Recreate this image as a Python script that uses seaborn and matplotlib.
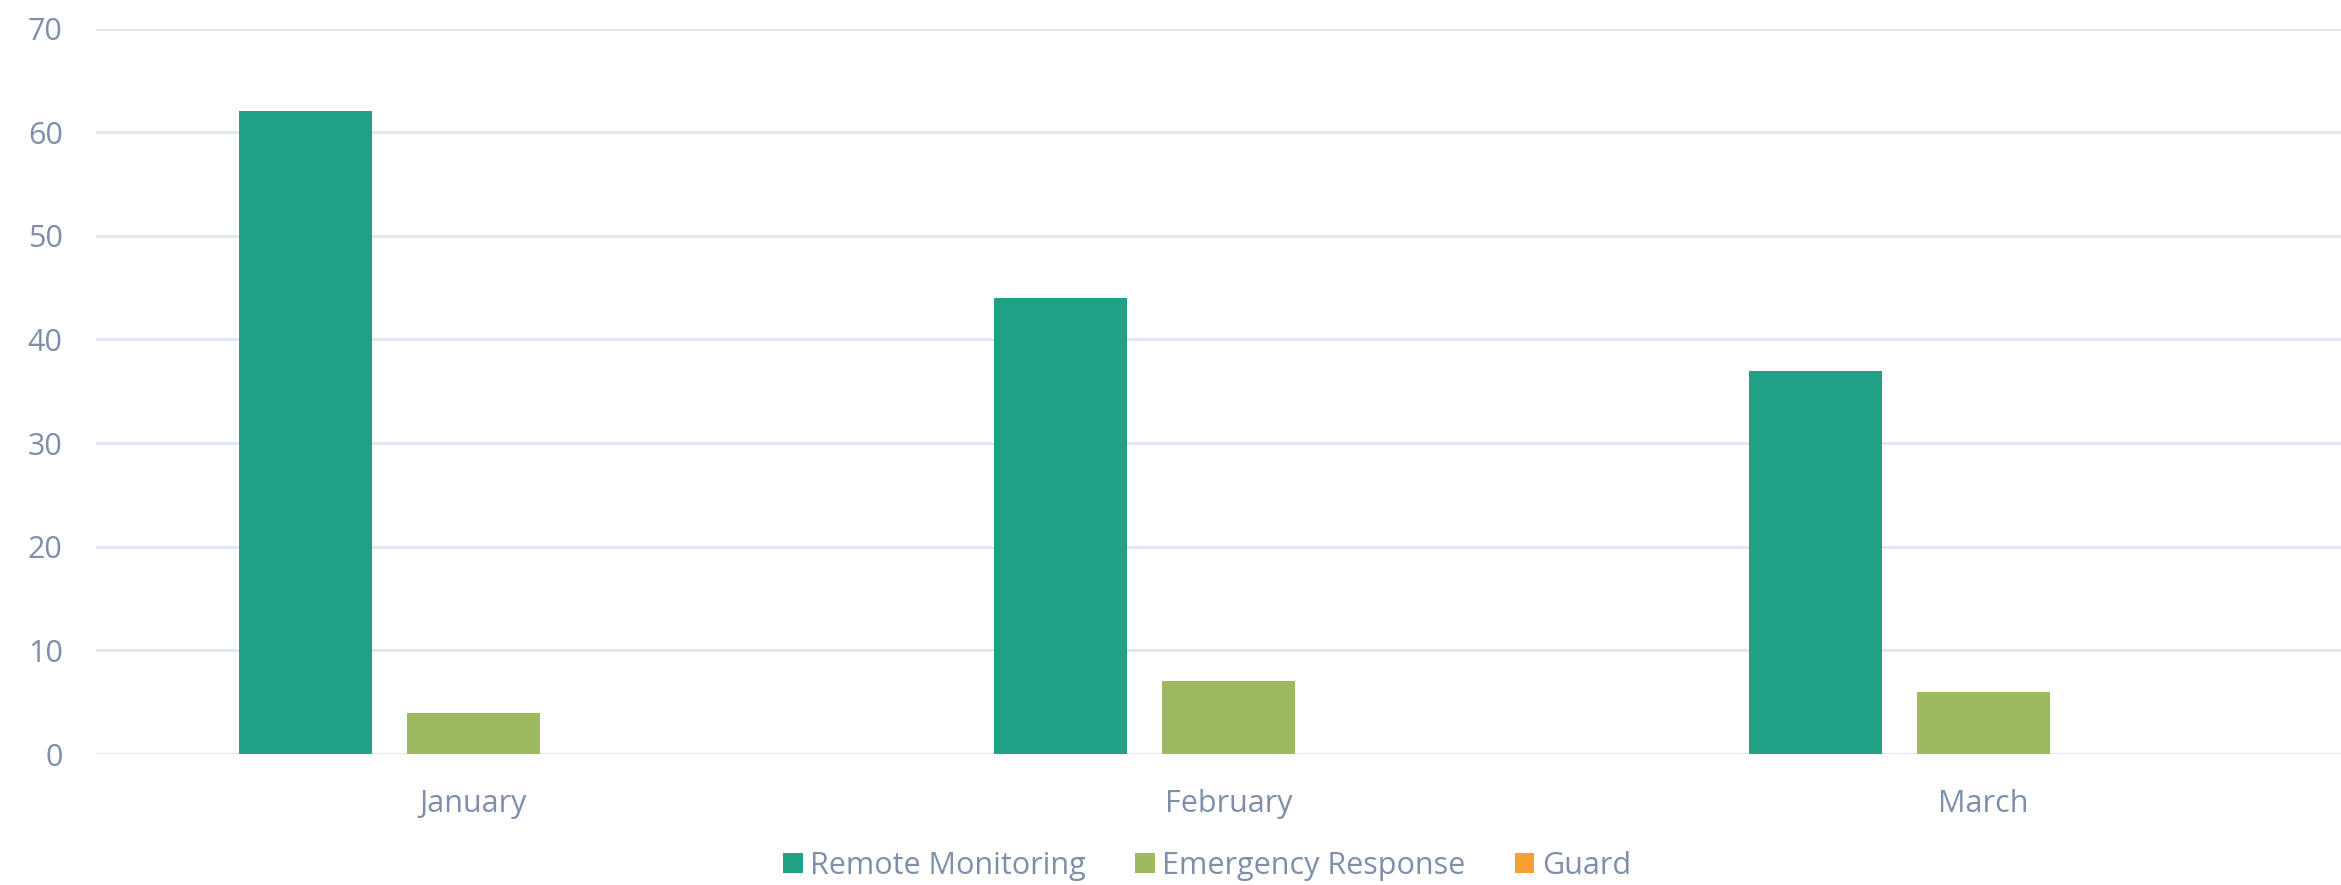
import matplotlib
matplotlib.use("Agg")
import matplotlib.pyplot as plt
import seaborn as sns
import pandas as pd

months = ["January", "February", "March"]
series = ["Remote Monitoring", "Emergency Response", "Guard"]
remote = [62, 44, 37]
emergency = [4, 7, 6]
guard = [0, 0, 0]
colors = ["#20a185", "#9dbb5e", "#f5a02c"]
y_ticks = [0, 10, 20, 30, 40, 50, 60, 70]

df = pd.DataFrame({
    "month": months * 3,
    "series": [series[0]] * 3 + [series[1]] * 3 + [series[2]] * 3,
    "value": remote + emergency + guard,
})

sns.set_theme(style="white")
plt.rcParams["font.family"] = ["Open Sans", "DejaVu Sans"]
text_color = "#7f8faa"

fig = plt.figure(figsize=(23.41, 8.85), dpi=100)
ax = fig.add_axes([96 / 2341, 131 / 885, 1 - 96 / 2341, 725.5 / 885])

sns.barplot(data=df, x="month", y="value", hue="series", palette=colors,
            width=0.6675, gap=0.214, saturation=1, linewidth=0, ax=ax)

ax.set_xlim(-0.5, 2.4735)
ax.set_ylim(0, 70)
ax.set_yticks(y_ticks)
ax.yaxis.grid(True, color="#e0e6f1", linewidth=2)
ax.set_axisbelow(True)
for s in ax.spines.values():
    s.set_visible(False)
ax.tick_params(axis="both", length=0, labelsize=22, labelcolor=text_color)
ax.tick_params(axis="y", pad=24)
ax.tick_params(axis="x", pad=25)
for lbl in ax.get_yticklabels():
    lbl.set_horizontalalignment("right")
ax.set_xlabel("")
ax.set_ylabel("")

handles, labels = ax.get_legend_handles_labels()
ax.legend_.remove()
fig.legend(handles, labels, loc="center", bbox_to_anchor=(0.5156, 19 / 885),
           ncol=3, frameon=False, fontsize=22, labelcolor=text_color,
           handlelength=0.65, handleheight=0.65, handletextpad=0.25,
           columnspacing=1.6)

fig.savefig("out.png", dpi=100)
